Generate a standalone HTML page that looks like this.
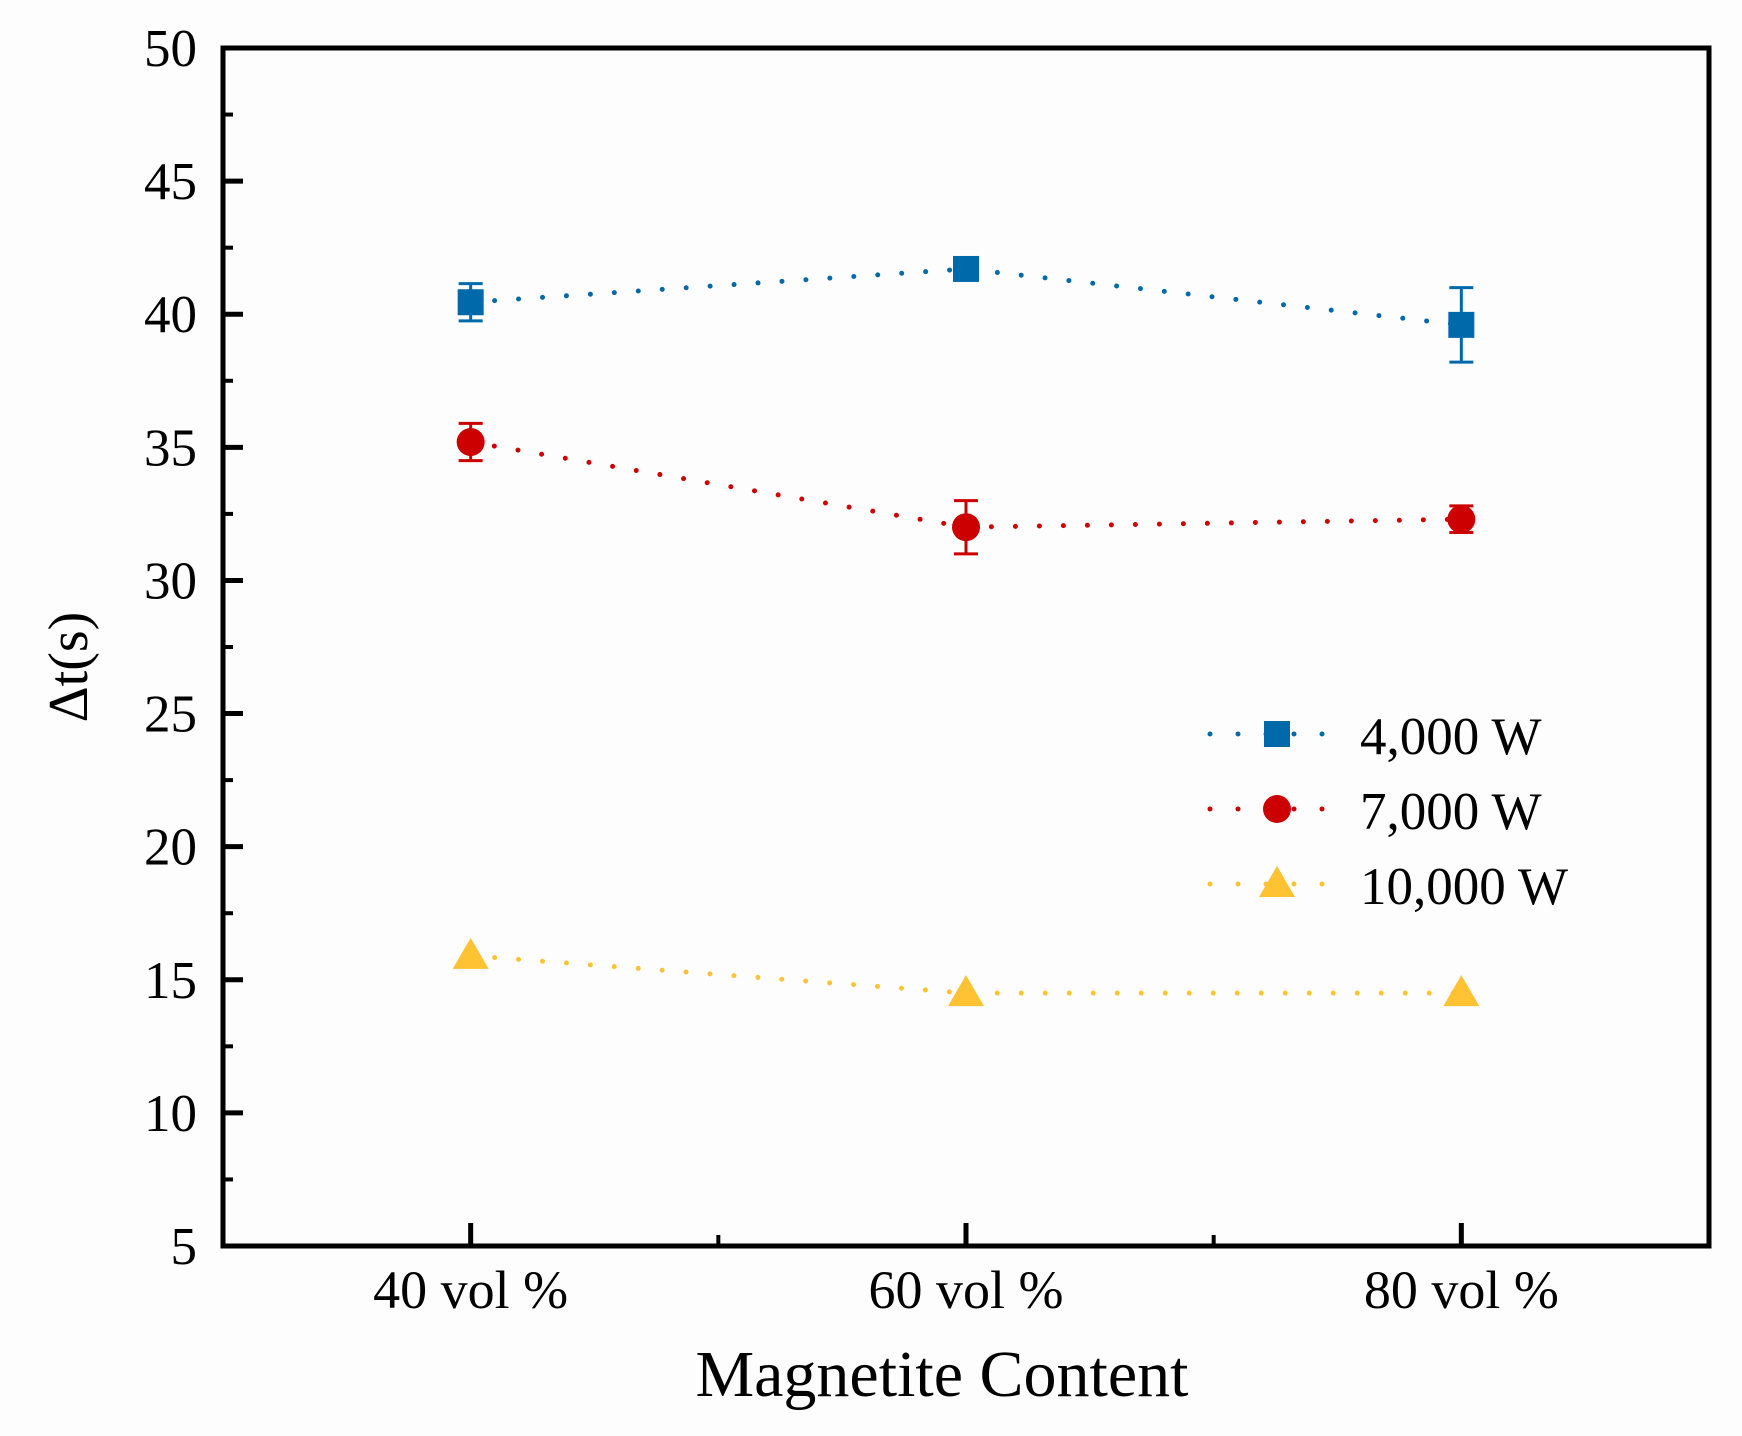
<!DOCTYPE html>
<html><head><meta charset="utf-8"><style>
html,body{margin:0;padding:0;background:#fdfdfd}
svg{display:block}
text{font-family:"Liberation Serif",serif;fill:#000}
</style></head><body>
<svg id="chart" width="1742" height="1436" viewBox="0 0 1742 1436" xmlns="http://www.w3.org/2000/svg">
<rect x="0" y="0" width="1742" height="1436" fill="#fdfdfd"/>
<g id="plot"></g>
<g id="axes"></g>
<text x="74" y="667" font-family="'DejaVu Sans','Liberation Sans',sans-serif" font-size="56" text-anchor="middle" dominant-baseline="middle" transform="rotate(-90 74 667)">Δt(s)</text>
<text x="942" y="1396" font-size="66" text-anchor="middle">Magnetite Content</text>
<g id="legend"></g>
</svg>
<script>
const categories = ["40 vol %", "60 vol %", "80 vol %"];
const seriesNames = ["4,000 W", "7,000 W", "10,000 W"];
const s4000 = [40.45, 41.7, 39.6];
const e4000 = [0.7, 0.15, 1.4];
const s7000 = [35.2, 32.0, 32.3];
const e7000 = [0.7, 1.0, 0.5];
const s10000 = [15.9, 14.5, 14.5];
const e10000 = [0, 0, 0];
const yTicks = [5, 10, 15, 20, 25, 30, 35, 40, 45, 50];

const NS = "http://www.w3.org/2000/svg";
const L = 223, R = 1709, T = 48, B = 1246;
const yMin = 5, yMax = 50;
function yPos(v){ return B - (v - yMin) / (yMax - yMin) * (B - T); }
function xPos(i){ return L + (i + 0.5) * (R - L) / categories.length; }
function mk(tag, attrs, parent){ const e = document.createElementNS(NS, tag); for (const k in attrs) e.setAttribute(k, attrs[k]); parent.appendChild(e); return e; }

const axes = document.getElementById('axes');
const plot = document.getElementById('plot');
const legend = document.getElementById('legend');

yTicks.forEach((v, i) => {
  const y = yPos(v);
  const t = mk('line', {x1: L, x2: L + 20, y1: y, y2: y, stroke: '#000', 'stroke-width': 5}, axes);
  
  
  const lb = mk('text', {x: 197, y: y + 18, 'font-size': 53, 'text-anchor': 'end'}, axes);
  lb.textContent = v;
  
  
  if (i < yTicks.length - 1) {
    const ym = yPos(v + 2.5);
    const m = mk('line', {x1: L, x2: L + 10, y1: ym, y2: ym, stroke: '#000', 'stroke-width': 4}, axes);
    
    
  }
});
categories.forEach((c, i) => {
  const x = xPos(i);
  const t = mk('line', {x1: x, x2: x, y1: B, y2: B - 23, stroke: '#000', 'stroke-width': 5}, axes);
  
  
  const lb = mk('text', {x: x, y: 1308, 'font-size': 54, 'text-anchor': 'middle'}, axes);
  lb.textContent = c;
  
  
  if (i < categories.length - 1) {
    const xm = (xPos(i) + xPos(i + 1)) / 2;
    const m = mk('line', {x1: xm, x2: xm, y1: B, y2: B - 11, stroke: '#000', 'stroke-width': 4}, axes);
    
    
  }
});
const frame = mk('rect', {x: L, y: T, width: R - L, height: B - T, fill: 'none', stroke: '#000', 'stroke-width': 5}, axes);



const colors = ['#0069aa', '#cc0000', '#ffc233'];
const shapes = ['square', 'circle', 'triangle'];
const vals = [s4000, s7000, s10000];
const errs = [e4000, e7000, e10000];

function marker(shape, x, y, color, parent){
  let m;
  if (shape === 'square') m = mk('rect', {x: x - 13, y: y - 13, width: 26, height: 26, fill: color}, parent);
  else if (shape === 'circle') m = mk('circle', {cx: x, cy: y, r: 14, fill: color}, parent);
  else m = mk('polygon', {points: `${x},${y - 18} ${x + 18},${y + 13} ${x - 18},${y + 13}`, fill: color}, parent);
  return m;
}

vals.forEach((arr, s) => {
  const g = mk('g', {}, plot);
  
  
  const pts = arr.map((v, i) => xPos(i) + ',' + yPos(v)).join(' ');
  const ln = mk('polyline', {points: pts, fill: 'none', stroke: colors[s], 'stroke-width': 5, 'stroke-dasharray': '0 24', 'stroke-linecap': 'round'}, g);
  
  
  arr.forEach((v, i) => {
    const x = xPos(i), e = errs[s][i];
    if (e > 0) {
      const eb = mk('path', {d: `M${x - 12},${yPos(v + e)}H${x + 12}M${x},${yPos(v + e)}V${yPos(v - e)}M${x - 12},${yPos(v - e)}H${x + 12}`, stroke: colors[s], 'stroke-width': 3, fill: 'none'}, g);
      
      
    }
    const m = marker(shapes[s], x, yPos(v), colors[s], g);
    
    
  });
});

const legY = [734, 809, 884];
seriesNames.forEach((n, s) => {
  const g = mk('g', {}, legend);
  
  
  const ln = mk('line', {x1: 1210, x2: 1324, y1: legY[s], y2: legY[s], stroke: colors[s], 'stroke-width': 5, 'stroke-dasharray': '0 28', 'stroke-linecap': 'round'}, g);
  
  
  const m = marker(shapes[s], 1277, legY[s], colors[s], g);
  
  
  const t = mk('text', {x: 1360, y: legY[s] + 20, 'font-size': 53}, g);
  t.textContent = n;
  
  
});
</script>
</body></html>
